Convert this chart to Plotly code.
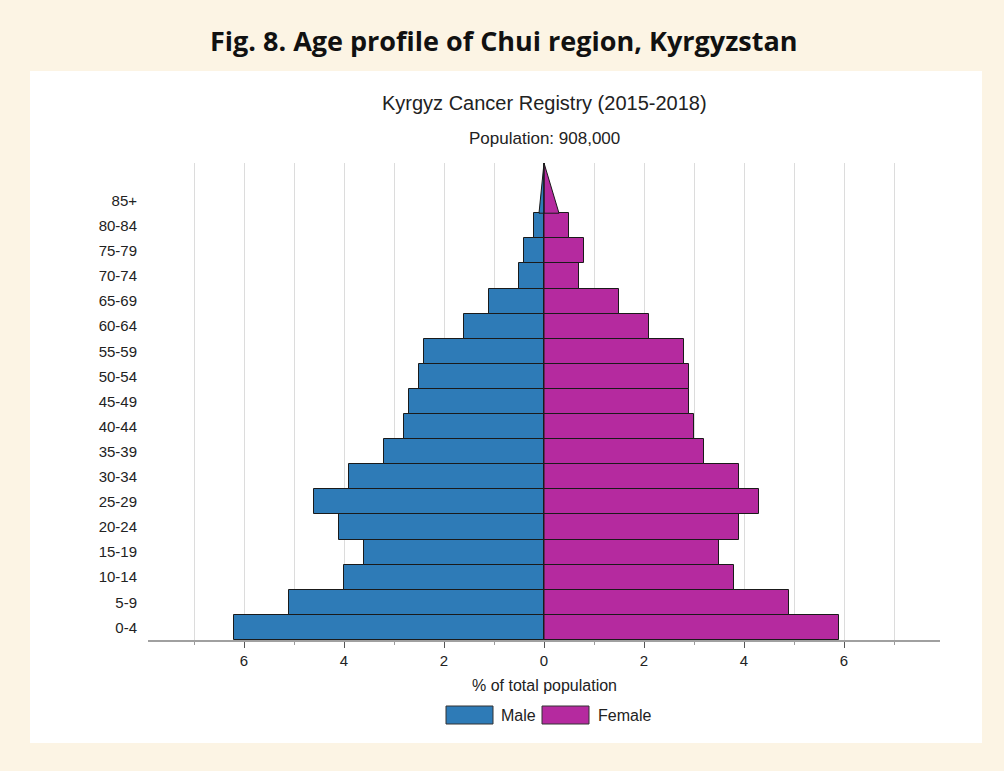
import plotly.graph_objects as go

age_groups = ["0-4", "5-9", "10-14", "15-19", "20-24", "25-29", "30-34", "35-39",
              "40-44", "45-49", "50-54", "55-59", "60-64", "65-69", "70-74", "75-79",
              "80-84", "85+"]
male = [6.2, 5.1, 4.0, 3.6, 4.1, 4.6, 3.9, 3.2, 2.8, 2.7, 2.5, 2.4, 1.6, 1.1, 0.5, 0.4, 0.2, 0.1]
female = [5.9, 4.9, 3.8, 3.5, 3.9, 4.3, 3.9, 3.2, 3.0, 2.9, 2.9, 2.8, 2.1, 1.5, 0.7, 0.8, 0.5, 0.3]
x_ticks = [-6, -4, -2, 0, 2, 4, 6]

BLUE = "#2e7bb7"
MAGENTA = "#b52a9f"
EDGE = "#1a1a1a"

n = len(age_groups)
pos = list(range(n))
fig = go.Figure()
fig.add_trace(go.Bar(y=pos[:-1], x=[-v for v in male[:-1]], orientation="h", width=1,
                     marker=dict(color=BLUE, line=dict(color=EDGE, width=1)),
                     name="Male", showlegend=False))
fig.add_trace(go.Bar(y=pos[:-1], x=female[:-1], orientation="h", width=1,
                     marker=dict(color=MAGENTA, line=dict(color=EDGE, width=1)),
                     name="Female", showlegend=False))
# open-ended top group drawn as a triangle
top = pos[-1]
fig.add_trace(go.Scatter(x=[0, -male[-1], 0, 0], y=[top - 0.5, top - 0.5, top + 1.5, top - 0.5],
                         mode="lines", fill="toself", fillcolor=BLUE,
                         line=dict(color=EDGE, width=1), showlegend=False, hoverinfo="skip"))
fig.add_trace(go.Scatter(x=[0, female[-1], 0, 0], y=[top - 0.5, top - 0.5, top + 1.5, top - 0.5],
                         mode="lines", fill="toself", fillcolor=MAGENTA,
                         line=dict(color=EDGE, width=1), showlegend=False, hoverinfo="skip"))
fig.add_trace(go.Scatter(x=[0, 0], y=[-0.5, top + 1.5], mode="lines",
                         line=dict(color=EDGE, width=1), showlegend=False, hoverinfo="skip"))

L, R, T, B = 148, 940, 163, 640
W, H = 1004, 771
pw, ph = R - L, B - T

def px(x):
    return (x - L) / pw

def py(y):
    return (B - y) / ph

shapes = [
    dict(type="rect", xref="paper", yref="paper", x0=px(30), x1=px(982), y0=py(743), y1=py(71),
         fillcolor="white", line=dict(width=0), layer="below"),
    dict(type="rect", xref="paper", yref="paper", x0=px(446), x1=px(493), y0=py(724), y1=py(706),
         fillcolor=BLUE, line=dict(color="#333", width=1)),
    dict(type="rect", xref="paper", yref="paper", x0=px(542), x1=px(589), y0=py(724), y1=py(706),
         fillcolor=MAGENTA, line=dict(color="#333", width=1)),
]

TXT = "#222"
ann = [
    dict(text="<b>Fig. 8. Age profile of Chui region, Kyrgyzstan</b>", x=px(504), y=py(40),
         font=dict(family="Open Sans", size=27, color="#111")),
    dict(text="Kyrgyz Cancer Registry (2015-2018)", x=px(544), y=py(103),
         font=dict(family="Liberation Sans", size=20, color=TXT)),
    dict(text="Population: 908,000", x=px(544), y=py(138),
         font=dict(family="Liberation Sans", size=17, color=TXT)),
    dict(text="% of total population", x=px(544), y=py(685),
         font=dict(family="Liberation Sans", size=16, color=TXT)),
    dict(text="Male", x=px(499), y=py(715), xanchor="left",
         font=dict(family="Liberation Sans", size=16, color=TXT)),
    dict(text="Female", x=px(596), y=py(715), xanchor="left",
         font=dict(family="Liberation Sans", size=16, color=TXT)),
]
for a in ann:
    a.update(xref="paper", yref="paper", showarrow=False, yanchor="middle")
    a.setdefault("xanchor", "center")

fig.update_layout(
    width=W, height=H,
    margin=dict(l=L, r=W - R, t=T, b=H - B, pad=0),
    paper_bgcolor="#fcf4e4", plot_bgcolor="white",
    barmode="overlay", bargap=0,
    shapes=shapes, annotations=ann,
    font=dict(family="Liberation Sans", size=15, color=TXT),
    xaxis=dict(range=[-7.92, 7.92], tickvals=x_ticks, ticktext=[str(abs(v)) for v in x_ticks],
               showgrid=True, gridcolor="#dcdcdc", gridwidth=1, zeroline=False,
               showline=True, linecolor="#a0a0a0", linewidth=2,
               ticks="outside", ticklen=6, tickcolor="#555", tickwidth=1,
               tickfont=dict(size=15, color=TXT),
               minor=dict(dtick=1, tick0=0, showgrid=True, gridcolor="#dcdcdc",
                          ticks="outside", ticklen=3, tickcolor="#999")),
    yaxis=dict(range=[-0.5, n + 0.5], tickvals=pos, ticktext=age_groups,
               showgrid=False, zeroline=False, showline=False, ticks="",
               ticklabelstandoff=10, tickfont=dict(size=15, color=TXT)),
)

fig.write_html("out.html", config={"displayModeBar": False},
               post_script="document.body.style.margin='0';")
